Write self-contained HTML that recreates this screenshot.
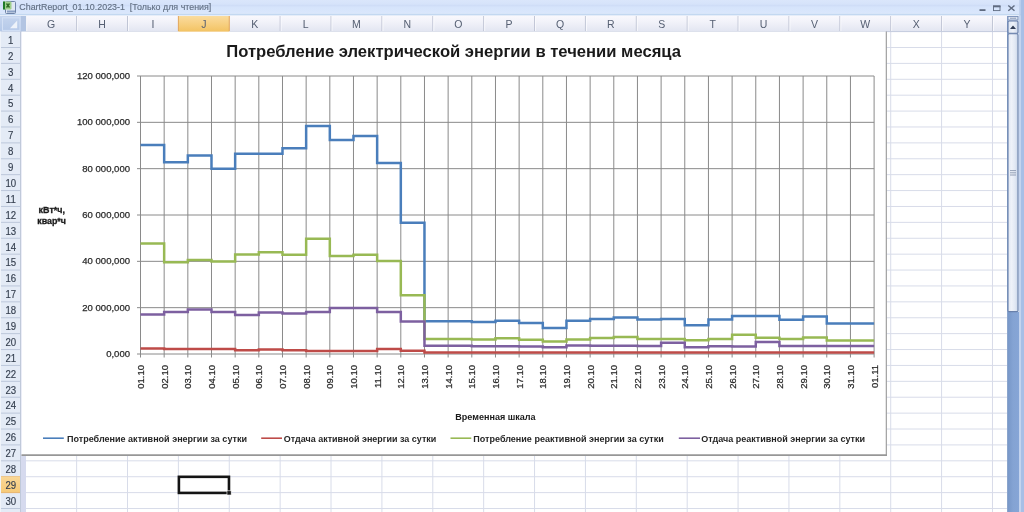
<!DOCTYPE html>
<html><head><meta charset="utf-8"><title>ChartReport</title>
<style>html,body{margin:0;padding:0;background:#fff;overflow:hidden;}svg{display:block;}</style>
</head><body>
<svg width="1024" height="512" viewBox="0 0 1024 512">
<defs>
<linearGradient id="tb" x1="0" y1="0" x2="0" y2="1">
 <stop offset="0" stop-color="#dae6fb"/><stop offset="0.25" stop-color="#d6e3fa"/><stop offset="0.35" stop-color="#cfddf7"/><stop offset="0.45" stop-color="#d6e4fb"/><stop offset="0.78" stop-color="#d9e6fc"/><stop offset="0.9" stop-color="#e3edfc"/><stop offset="1" stop-color="#e3edfc"/>
</linearGradient>
<linearGradient id="hd" x1="0" y1="0" x2="0" y2="1">
 <stop offset="0" stop-color="#f9f8fd"/><stop offset="0.4" stop-color="#f1f2f9"/><stop offset="1" stop-color="#e2e5f1"/>
</linearGradient>
<linearGradient id="hdsel" x1="0" y1="0" x2="0" y2="1">
 <stop offset="0" stop-color="#fadc9f"/><stop offset="0.5" stop-color="#f7cf80"/><stop offset="1" stop-color="#f2c260"/>
</linearGradient>
<linearGradient id="rhsel" x1="0" y1="0" x2="0" y2="1">
 <stop offset="0" stop-color="#f9d796"/><stop offset="1" stop-color="#f6ca78"/>
</linearGradient>
<linearGradient id="corner" x1="0" y1="0" x2="0" y2="1">
 <stop offset="0" stop-color="#c5d5ee"/><stop offset="1" stop-color="#b4c8e8"/>
</linearGradient>
<linearGradient id="thumb" x1="0" y1="0" x2="1" y2="0">
 <stop offset="0" stop-color="#dfe6f2"/><stop offset="0.35" stop-color="#eef2f9"/><stop offset="0.7" stop-color="#e2e9f4"/><stop offset="1" stop-color="#c9d5e8"/>
</linearGradient>
<linearGradient id="trk" x1="0" y1="0" x2="1" y2="0">
 <stop offset="0" stop-color="#7595c6"/><stop offset="0.5" stop-color="#84a3d3"/><stop offset="1" stop-color="#86a5d6"/>
</linearGradient>
<linearGradient id="btn" x1="0" y1="0" x2="1" y2="0">
 <stop offset="0" stop-color="#dbe4f2"/><stop offset="0.5" stop-color="#eef2f9"/><stop offset="1" stop-color="#cfdaeb"/>
</linearGradient>
</defs>
<rect x="0" y="0" width="1024" height="512" fill="#ffffff"/>
<line x1="21" y1="47.50" x2="1007" y2="47.50" stroke="#d8dce9" stroke-width="1"/>
<line x1="21" y1="63.39" x2="1007" y2="63.39" stroke="#d8dce9" stroke-width="1"/>
<line x1="21" y1="79.29" x2="1007" y2="79.29" stroke="#d8dce9" stroke-width="1"/>
<line x1="21" y1="95.19" x2="1007" y2="95.19" stroke="#d8dce9" stroke-width="1"/>
<line x1="21" y1="111.09" x2="1007" y2="111.09" stroke="#d8dce9" stroke-width="1"/>
<line x1="21" y1="126.98" x2="1007" y2="126.98" stroke="#d8dce9" stroke-width="1"/>
<line x1="21" y1="142.88" x2="1007" y2="142.88" stroke="#d8dce9" stroke-width="1"/>
<line x1="21" y1="158.78" x2="1007" y2="158.78" stroke="#d8dce9" stroke-width="1"/>
<line x1="21" y1="174.67" x2="1007" y2="174.67" stroke="#d8dce9" stroke-width="1"/>
<line x1="21" y1="190.57" x2="1007" y2="190.57" stroke="#d8dce9" stroke-width="1"/>
<line x1="21" y1="206.47" x2="1007" y2="206.47" stroke="#d8dce9" stroke-width="1"/>
<line x1="21" y1="222.36" x2="1007" y2="222.36" stroke="#d8dce9" stroke-width="1"/>
<line x1="21" y1="238.26" x2="1007" y2="238.26" stroke="#d8dce9" stroke-width="1"/>
<line x1="21" y1="254.16" x2="1007" y2="254.16" stroke="#d8dce9" stroke-width="1"/>
<line x1="21" y1="270.06" x2="1007" y2="270.06" stroke="#d8dce9" stroke-width="1"/>
<line x1="21" y1="285.95" x2="1007" y2="285.95" stroke="#d8dce9" stroke-width="1"/>
<line x1="21" y1="301.85" x2="1007" y2="301.85" stroke="#d8dce9" stroke-width="1"/>
<line x1="21" y1="317.75" x2="1007" y2="317.75" stroke="#d8dce9" stroke-width="1"/>
<line x1="21" y1="333.64" x2="1007" y2="333.64" stroke="#d8dce9" stroke-width="1"/>
<line x1="21" y1="349.54" x2="1007" y2="349.54" stroke="#d8dce9" stroke-width="1"/>
<line x1="21" y1="365.44" x2="1007" y2="365.44" stroke="#d8dce9" stroke-width="1"/>
<line x1="21" y1="381.33" x2="1007" y2="381.33" stroke="#d8dce9" stroke-width="1"/>
<line x1="21" y1="397.23" x2="1007" y2="397.23" stroke="#d8dce9" stroke-width="1"/>
<line x1="21" y1="413.13" x2="1007" y2="413.13" stroke="#d8dce9" stroke-width="1"/>
<line x1="21" y1="429.03" x2="1007" y2="429.03" stroke="#d8dce9" stroke-width="1"/>
<line x1="21" y1="444.92" x2="1007" y2="444.92" stroke="#d8dce9" stroke-width="1"/>
<line x1="21" y1="460.82" x2="1007" y2="460.82" stroke="#d8dce9" stroke-width="1"/>
<line x1="21" y1="476.72" x2="1007" y2="476.72" stroke="#d8dce9" stroke-width="1"/>
<line x1="21" y1="492.61" x2="1007" y2="492.61" stroke="#d8dce9" stroke-width="1"/>
<line x1="21" y1="508.51" x2="1007" y2="508.51" stroke="#d8dce9" stroke-width="1"/>
<line x1="76.63" y1="32" x2="76.63" y2="512" stroke="#d8dce9" stroke-width="1"/>
<line x1="127.51" y1="32" x2="127.51" y2="512" stroke="#d8dce9" stroke-width="1"/>
<line x1="178.39" y1="32" x2="178.39" y2="512" stroke="#d8dce9" stroke-width="1"/>
<line x1="229.27" y1="32" x2="229.27" y2="512" stroke="#d8dce9" stroke-width="1"/>
<line x1="280.15" y1="32" x2="280.15" y2="512" stroke="#d8dce9" stroke-width="1"/>
<line x1="331.03" y1="32" x2="331.03" y2="512" stroke="#d8dce9" stroke-width="1"/>
<line x1="381.91" y1="32" x2="381.91" y2="512" stroke="#d8dce9" stroke-width="1"/>
<line x1="432.79" y1="32" x2="432.79" y2="512" stroke="#d8dce9" stroke-width="1"/>
<line x1="483.67" y1="32" x2="483.67" y2="512" stroke="#d8dce9" stroke-width="1"/>
<line x1="534.55" y1="32" x2="534.55" y2="512" stroke="#d8dce9" stroke-width="1"/>
<line x1="585.43" y1="32" x2="585.43" y2="512" stroke="#d8dce9" stroke-width="1"/>
<line x1="636.31" y1="32" x2="636.31" y2="512" stroke="#d8dce9" stroke-width="1"/>
<line x1="687.19" y1="32" x2="687.19" y2="512" stroke="#d8dce9" stroke-width="1"/>
<line x1="738.07" y1="32" x2="738.07" y2="512" stroke="#d8dce9" stroke-width="1"/>
<line x1="788.95" y1="32" x2="788.95" y2="512" stroke="#d8dce9" stroke-width="1"/>
<line x1="839.83" y1="32" x2="839.83" y2="512" stroke="#d8dce9" stroke-width="1"/>
<line x1="890.71" y1="32" x2="890.71" y2="512" stroke="#d8dce9" stroke-width="1"/>
<line x1="941.59" y1="32" x2="941.59" y2="512" stroke="#d8dce9" stroke-width="1"/>
<line x1="992.47" y1="32" x2="992.47" y2="512" stroke="#d8dce9" stroke-width="1"/>
<rect x="21" y="32" width="5" height="480" fill="#d6daee"/>
<rect x="0" y="0" width="1024" height="16" fill="url(#tb)"/>
<rect x="0" y="13.8" width="1024" height="1.6" fill="#c3d8f1"/>
<rect x="0" y="15.4" width="1024" height="0.6" fill="#eef3fb"/>
<rect x="5.5" y="1.5" width="10" height="12" rx="1" fill="#dfe7f3" stroke="#6f84a8" stroke-width="1"/>
<rect x="7" y="10.5" width="8" height="2" fill="#8aa0c4"/>
<rect x="3" y="1.5" width="8.5" height="8" rx="1.2" fill="#9fd08c"/>
<rect x="3" y="1.5" width="2" height="8" fill="#1f7a2a"/>
<path d="M6.5 3.5 L9.5 7.5 M9.5 3.5 L6.5 7.5" stroke="#2e6b25" stroke-width="1.3"/>
<text x="19.3" y="10.3" font-family='"Liberation Sans", "DejaVu Sans", sans-serif' font-size="9" fill="#627084" stroke="#627084" stroke-width="0.15" textLength="192" lengthAdjust="spacingAndGlyphs" xml:space="preserve">ChartReport_01.10.2023-1  [Только для чтения]</text>
<rect x="979.5" y="9.2" width="6" height="1.8" fill="#5f6b80"/>
<rect x="993.5" y="6" width="6.5" height="4.6" fill="none" stroke="#5f6b80" stroke-width="0.9"/>
<rect x="993" y="5.5" width="7.5" height="1.8" fill="#5f6b80"/>
<path d="M1008.3 5.5 L1014.5 10.8 M1014.5 5.5 L1008.3 10.8" stroke="#5f6b80" stroke-width="1.4"/>
<rect x="0" y="16" width="1007" height="15.6" fill="url(#hd)"/>
<text x="51.19" y="27.8" font-family='"Liberation Sans", "DejaVu Sans", sans-serif' font-size="10.5" fill="#566073" text-anchor="middle">G</text>
<text x="102.07" y="27.8" font-family='"Liberation Sans", "DejaVu Sans", sans-serif' font-size="10.5" fill="#566073" text-anchor="middle">H</text>
<text x="152.95" y="27.8" font-family='"Liberation Sans", "DejaVu Sans", sans-serif' font-size="10.5" fill="#566073" text-anchor="middle">I</text>
<rect x="178.39" y="16" width="50.88" height="16.2" fill="url(#hdsel)"/>
<text x="203.83" y="27.8" font-family='"Liberation Sans", "DejaVu Sans", sans-serif' font-size="10.5" fill="#566073" text-anchor="middle">J</text>
<text x="254.71" y="27.8" font-family='"Liberation Sans", "DejaVu Sans", sans-serif' font-size="10.5" fill="#566073" text-anchor="middle">K</text>
<text x="305.59" y="27.8" font-family='"Liberation Sans", "DejaVu Sans", sans-serif' font-size="10.5" fill="#566073" text-anchor="middle">L</text>
<text x="356.47" y="27.8" font-family='"Liberation Sans", "DejaVu Sans", sans-serif' font-size="10.5" fill="#566073" text-anchor="middle">M</text>
<text x="407.35" y="27.8" font-family='"Liberation Sans", "DejaVu Sans", sans-serif' font-size="10.5" fill="#566073" text-anchor="middle">N</text>
<text x="458.23" y="27.8" font-family='"Liberation Sans", "DejaVu Sans", sans-serif' font-size="10.5" fill="#566073" text-anchor="middle">O</text>
<text x="509.11" y="27.8" font-family='"Liberation Sans", "DejaVu Sans", sans-serif' font-size="10.5" fill="#566073" text-anchor="middle">P</text>
<text x="559.99" y="27.8" font-family='"Liberation Sans", "DejaVu Sans", sans-serif' font-size="10.5" fill="#566073" text-anchor="middle">Q</text>
<text x="610.87" y="27.8" font-family='"Liberation Sans", "DejaVu Sans", sans-serif' font-size="10.5" fill="#566073" text-anchor="middle">R</text>
<text x="661.75" y="27.8" font-family='"Liberation Sans", "DejaVu Sans", sans-serif' font-size="10.5" fill="#566073" text-anchor="middle">S</text>
<text x="712.63" y="27.8" font-family='"Liberation Sans", "DejaVu Sans", sans-serif' font-size="10.5" fill="#566073" text-anchor="middle">T</text>
<text x="763.51" y="27.8" font-family='"Liberation Sans", "DejaVu Sans", sans-serif' font-size="10.5" fill="#566073" text-anchor="middle">U</text>
<text x="814.39" y="27.8" font-family='"Liberation Sans", "DejaVu Sans", sans-serif' font-size="10.5" fill="#566073" text-anchor="middle">V</text>
<text x="865.27" y="27.8" font-family='"Liberation Sans", "DejaVu Sans", sans-serif' font-size="10.5" fill="#566073" text-anchor="middle">W</text>
<text x="916.15" y="27.8" font-family='"Liberation Sans", "DejaVu Sans", sans-serif' font-size="10.5" fill="#566073" text-anchor="middle">X</text>
<text x="967.03" y="27.8" font-family='"Liberation Sans", "DejaVu Sans", sans-serif' font-size="10.5" fill="#566073" text-anchor="middle">Y</text>
<line x1="25.75" y1="16" x2="25.75" y2="31.6" stroke="#c0c5d5" stroke-width="1"/>
<line x1="26.75" y1="16" x2="26.75" y2="31.6" stroke="#fbfbfe" stroke-width="0.8"/>
<line x1="76.63" y1="16" x2="76.63" y2="31.6" stroke="#c0c5d5" stroke-width="1"/>
<line x1="77.63" y1="16" x2="77.63" y2="31.6" stroke="#fbfbfe" stroke-width="0.8"/>
<line x1="127.51" y1="16" x2="127.51" y2="31.6" stroke="#c0c5d5" stroke-width="1"/>
<line x1="128.51" y1="16" x2="128.51" y2="31.6" stroke="#fbfbfe" stroke-width="0.8"/>
<line x1="178.39" y1="16" x2="178.39" y2="31.6" stroke="#e2a55a" stroke-width="1"/>
<line x1="229.27" y1="16" x2="229.27" y2="31.6" stroke="#e2a55a" stroke-width="1"/>
<line x1="280.15" y1="16" x2="280.15" y2="31.6" stroke="#c0c5d5" stroke-width="1"/>
<line x1="281.15" y1="16" x2="281.15" y2="31.6" stroke="#fbfbfe" stroke-width="0.8"/>
<line x1="331.03" y1="16" x2="331.03" y2="31.6" stroke="#c0c5d5" stroke-width="1"/>
<line x1="332.03" y1="16" x2="332.03" y2="31.6" stroke="#fbfbfe" stroke-width="0.8"/>
<line x1="381.91" y1="16" x2="381.91" y2="31.6" stroke="#c0c5d5" stroke-width="1"/>
<line x1="382.91" y1="16" x2="382.91" y2="31.6" stroke="#fbfbfe" stroke-width="0.8"/>
<line x1="432.79" y1="16" x2="432.79" y2="31.6" stroke="#c0c5d5" stroke-width="1"/>
<line x1="433.79" y1="16" x2="433.79" y2="31.6" stroke="#fbfbfe" stroke-width="0.8"/>
<line x1="483.67" y1="16" x2="483.67" y2="31.6" stroke="#c0c5d5" stroke-width="1"/>
<line x1="484.67" y1="16" x2="484.67" y2="31.6" stroke="#fbfbfe" stroke-width="0.8"/>
<line x1="534.55" y1="16" x2="534.55" y2="31.6" stroke="#c0c5d5" stroke-width="1"/>
<line x1="535.55" y1="16" x2="535.55" y2="31.6" stroke="#fbfbfe" stroke-width="0.8"/>
<line x1="585.43" y1="16" x2="585.43" y2="31.6" stroke="#c0c5d5" stroke-width="1"/>
<line x1="586.43" y1="16" x2="586.43" y2="31.6" stroke="#fbfbfe" stroke-width="0.8"/>
<line x1="636.31" y1="16" x2="636.31" y2="31.6" stroke="#c0c5d5" stroke-width="1"/>
<line x1="637.31" y1="16" x2="637.31" y2="31.6" stroke="#fbfbfe" stroke-width="0.8"/>
<line x1="687.19" y1="16" x2="687.19" y2="31.6" stroke="#c0c5d5" stroke-width="1"/>
<line x1="688.19" y1="16" x2="688.19" y2="31.6" stroke="#fbfbfe" stroke-width="0.8"/>
<line x1="738.07" y1="16" x2="738.07" y2="31.6" stroke="#c0c5d5" stroke-width="1"/>
<line x1="739.07" y1="16" x2="739.07" y2="31.6" stroke="#fbfbfe" stroke-width="0.8"/>
<line x1="788.95" y1="16" x2="788.95" y2="31.6" stroke="#c0c5d5" stroke-width="1"/>
<line x1="789.95" y1="16" x2="789.95" y2="31.6" stroke="#fbfbfe" stroke-width="0.8"/>
<line x1="839.83" y1="16" x2="839.83" y2="31.6" stroke="#c0c5d5" stroke-width="1"/>
<line x1="840.83" y1="16" x2="840.83" y2="31.6" stroke="#fbfbfe" stroke-width="0.8"/>
<line x1="890.71" y1="16" x2="890.71" y2="31.6" stroke="#c0c5d5" stroke-width="1"/>
<line x1="891.71" y1="16" x2="891.71" y2="31.6" stroke="#fbfbfe" stroke-width="0.8"/>
<line x1="941.59" y1="16" x2="941.59" y2="31.6" stroke="#c0c5d5" stroke-width="1"/>
<line x1="942.59" y1="16" x2="942.59" y2="31.6" stroke="#fbfbfe" stroke-width="0.8"/>
<line x1="992.47" y1="16" x2="992.47" y2="31.6" stroke="#c0c5d5" stroke-width="1"/>
<line x1="993.47" y1="16" x2="993.47" y2="31.6" stroke="#fbfbfe" stroke-width="0.8"/>
<line x1="0" y1="31.6" x2="1007" y2="31.6" stroke="#c3cbdd" stroke-width="1"/>
<rect x="178.39" y="31" width="50.88" height="1.2" fill="#efbb5c"/>
<rect x="0" y="16" width="21" height="15.6" fill="url(#corner)"/>
<rect x="21" y="16" width="5" height="15.6" fill="#b2c4e2"/>
<rect x="2.5" y="17.8" width="17.5" height="12.6" fill="none" stroke="#d3e0f5" stroke-width="1"/>
<path d="M17.2 20.6 L17.2 28.2 L10 28.2 Z" fill="#eef3fa"/>
<rect x="0" y="31.6" width="20.5" height="481" fill="#e4ebf6"/>
<text x="8.06" y="43.85" font-family='"Liberation Sans", "DejaVu Sans", sans-serif' font-size="10.5" fill="#364050" stroke="#364050" stroke-width="0.15" textLength="5.37" lengthAdjust="spacingAndGlyphs">1</text>
<line x1="0" y1="47.50" x2="20.5" y2="47.50" stroke="#bcc7da" stroke-width="1"/>
<text x="8.06" y="59.75" font-family='"Liberation Sans", "DejaVu Sans", sans-serif' font-size="10.5" fill="#364050" stroke="#364050" stroke-width="0.15" textLength="5.37" lengthAdjust="spacingAndGlyphs">2</text>
<line x1="0" y1="63.39" x2="20.5" y2="63.39" stroke="#bcc7da" stroke-width="1"/>
<text x="8.06" y="75.64" font-family='"Liberation Sans", "DejaVu Sans", sans-serif' font-size="10.5" fill="#364050" stroke="#364050" stroke-width="0.15" textLength="5.37" lengthAdjust="spacingAndGlyphs">3</text>
<line x1="0" y1="79.29" x2="20.5" y2="79.29" stroke="#bcc7da" stroke-width="1"/>
<text x="8.06" y="91.54" font-family='"Liberation Sans", "DejaVu Sans", sans-serif' font-size="10.5" fill="#364050" stroke="#364050" stroke-width="0.15" textLength="5.37" lengthAdjust="spacingAndGlyphs">4</text>
<line x1="0" y1="95.19" x2="20.5" y2="95.19" stroke="#bcc7da" stroke-width="1"/>
<text x="8.06" y="107.44" font-family='"Liberation Sans", "DejaVu Sans", sans-serif' font-size="10.5" fill="#364050" stroke="#364050" stroke-width="0.15" textLength="5.37" lengthAdjust="spacingAndGlyphs">5</text>
<line x1="0" y1="111.09" x2="20.5" y2="111.09" stroke="#bcc7da" stroke-width="1"/>
<text x="8.06" y="123.33" font-family='"Liberation Sans", "DejaVu Sans", sans-serif' font-size="10.5" fill="#364050" stroke="#364050" stroke-width="0.15" textLength="5.37" lengthAdjust="spacingAndGlyphs">6</text>
<line x1="0" y1="126.98" x2="20.5" y2="126.98" stroke="#bcc7da" stroke-width="1"/>
<text x="8.06" y="139.23" font-family='"Liberation Sans", "DejaVu Sans", sans-serif' font-size="10.5" fill="#364050" stroke="#364050" stroke-width="0.15" textLength="5.37" lengthAdjust="spacingAndGlyphs">7</text>
<line x1="0" y1="142.88" x2="20.5" y2="142.88" stroke="#bcc7da" stroke-width="1"/>
<text x="8.06" y="155.13" font-family='"Liberation Sans", "DejaVu Sans", sans-serif' font-size="10.5" fill="#364050" stroke="#364050" stroke-width="0.15" textLength="5.37" lengthAdjust="spacingAndGlyphs">8</text>
<line x1="0" y1="158.78" x2="20.5" y2="158.78" stroke="#bcc7da" stroke-width="1"/>
<text x="8.06" y="171.02" font-family='"Liberation Sans", "DejaVu Sans", sans-serif' font-size="10.5" fill="#364050" stroke="#364050" stroke-width="0.15" textLength="5.37" lengthAdjust="spacingAndGlyphs">9</text>
<line x1="0" y1="174.67" x2="20.5" y2="174.67" stroke="#bcc7da" stroke-width="1"/>
<text x="5.38" y="186.92" font-family='"Liberation Sans", "DejaVu Sans", sans-serif' font-size="10.5" fill="#364050" stroke="#364050" stroke-width="0.15" textLength="10.74" lengthAdjust="spacingAndGlyphs">10</text>
<line x1="0" y1="190.57" x2="20.5" y2="190.57" stroke="#bcc7da" stroke-width="1"/>
<text x="5.74" y="202.82" font-family='"Liberation Sans", "DejaVu Sans", sans-serif' font-size="10.5" fill="#364050" stroke="#364050" stroke-width="0.15" textLength="10.03" lengthAdjust="spacingAndGlyphs">11</text>
<line x1="0" y1="206.47" x2="20.5" y2="206.47" stroke="#bcc7da" stroke-width="1"/>
<text x="5.38" y="218.72" font-family='"Liberation Sans", "DejaVu Sans", sans-serif' font-size="10.5" fill="#364050" stroke="#364050" stroke-width="0.15" textLength="10.74" lengthAdjust="spacingAndGlyphs">12</text>
<line x1="0" y1="222.36" x2="20.5" y2="222.36" stroke="#bcc7da" stroke-width="1"/>
<text x="5.38" y="234.61" font-family='"Liberation Sans", "DejaVu Sans", sans-serif' font-size="10.5" fill="#364050" stroke="#364050" stroke-width="0.15" textLength="10.74" lengthAdjust="spacingAndGlyphs">13</text>
<line x1="0" y1="238.26" x2="20.5" y2="238.26" stroke="#bcc7da" stroke-width="1"/>
<text x="5.38" y="250.51" font-family='"Liberation Sans", "DejaVu Sans", sans-serif' font-size="10.5" fill="#364050" stroke="#364050" stroke-width="0.15" textLength="10.74" lengthAdjust="spacingAndGlyphs">14</text>
<line x1="0" y1="254.16" x2="20.5" y2="254.16" stroke="#bcc7da" stroke-width="1"/>
<text x="5.38" y="266.41" font-family='"Liberation Sans", "DejaVu Sans", sans-serif' font-size="10.5" fill="#364050" stroke="#364050" stroke-width="0.15" textLength="10.74" lengthAdjust="spacingAndGlyphs">15</text>
<line x1="0" y1="270.06" x2="20.5" y2="270.06" stroke="#bcc7da" stroke-width="1"/>
<text x="5.38" y="282.30" font-family='"Liberation Sans", "DejaVu Sans", sans-serif' font-size="10.5" fill="#364050" stroke="#364050" stroke-width="0.15" textLength="10.74" lengthAdjust="spacingAndGlyphs">16</text>
<line x1="0" y1="285.95" x2="20.5" y2="285.95" stroke="#bcc7da" stroke-width="1"/>
<text x="5.38" y="298.20" font-family='"Liberation Sans", "DejaVu Sans", sans-serif' font-size="10.5" fill="#364050" stroke="#364050" stroke-width="0.15" textLength="10.74" lengthAdjust="spacingAndGlyphs">17</text>
<line x1="0" y1="301.85" x2="20.5" y2="301.85" stroke="#bcc7da" stroke-width="1"/>
<text x="5.38" y="314.10" font-family='"Liberation Sans", "DejaVu Sans", sans-serif' font-size="10.5" fill="#364050" stroke="#364050" stroke-width="0.15" textLength="10.74" lengthAdjust="spacingAndGlyphs">18</text>
<line x1="0" y1="317.75" x2="20.5" y2="317.75" stroke="#bcc7da" stroke-width="1"/>
<text x="5.38" y="329.99" font-family='"Liberation Sans", "DejaVu Sans", sans-serif' font-size="10.5" fill="#364050" stroke="#364050" stroke-width="0.15" textLength="10.74" lengthAdjust="spacingAndGlyphs">19</text>
<line x1="0" y1="333.64" x2="20.5" y2="333.64" stroke="#bcc7da" stroke-width="1"/>
<text x="5.38" y="345.89" font-family='"Liberation Sans", "DejaVu Sans", sans-serif' font-size="10.5" fill="#364050" stroke="#364050" stroke-width="0.15" textLength="10.74" lengthAdjust="spacingAndGlyphs">20</text>
<line x1="0" y1="349.54" x2="20.5" y2="349.54" stroke="#bcc7da" stroke-width="1"/>
<text x="5.38" y="361.79" font-family='"Liberation Sans", "DejaVu Sans", sans-serif' font-size="10.5" fill="#364050" stroke="#364050" stroke-width="0.15" textLength="10.74" lengthAdjust="spacingAndGlyphs">21</text>
<line x1="0" y1="365.44" x2="20.5" y2="365.44" stroke="#bcc7da" stroke-width="1"/>
<text x="5.38" y="377.69" font-family='"Liberation Sans", "DejaVu Sans", sans-serif' font-size="10.5" fill="#364050" stroke="#364050" stroke-width="0.15" textLength="10.74" lengthAdjust="spacingAndGlyphs">22</text>
<line x1="0" y1="381.33" x2="20.5" y2="381.33" stroke="#bcc7da" stroke-width="1"/>
<text x="5.38" y="393.58" font-family='"Liberation Sans", "DejaVu Sans", sans-serif' font-size="10.5" fill="#364050" stroke="#364050" stroke-width="0.15" textLength="10.74" lengthAdjust="spacingAndGlyphs">23</text>
<line x1="0" y1="397.23" x2="20.5" y2="397.23" stroke="#bcc7da" stroke-width="1"/>
<text x="5.38" y="409.48" font-family='"Liberation Sans", "DejaVu Sans", sans-serif' font-size="10.5" fill="#364050" stroke="#364050" stroke-width="0.15" textLength="10.74" lengthAdjust="spacingAndGlyphs">24</text>
<line x1="0" y1="413.13" x2="20.5" y2="413.13" stroke="#bcc7da" stroke-width="1"/>
<text x="5.38" y="425.38" font-family='"Liberation Sans", "DejaVu Sans", sans-serif' font-size="10.5" fill="#364050" stroke="#364050" stroke-width="0.15" textLength="10.74" lengthAdjust="spacingAndGlyphs">25</text>
<line x1="0" y1="429.03" x2="20.5" y2="429.03" stroke="#bcc7da" stroke-width="1"/>
<text x="5.38" y="441.27" font-family='"Liberation Sans", "DejaVu Sans", sans-serif' font-size="10.5" fill="#364050" stroke="#364050" stroke-width="0.15" textLength="10.74" lengthAdjust="spacingAndGlyphs">26</text>
<line x1="0" y1="444.92" x2="20.5" y2="444.92" stroke="#bcc7da" stroke-width="1"/>
<text x="5.38" y="457.17" font-family='"Liberation Sans", "DejaVu Sans", sans-serif' font-size="10.5" fill="#364050" stroke="#364050" stroke-width="0.15" textLength="10.74" lengthAdjust="spacingAndGlyphs">27</text>
<line x1="0" y1="460.82" x2="20.5" y2="460.82" stroke="#bcc7da" stroke-width="1"/>
<text x="5.38" y="473.07" font-family='"Liberation Sans", "DejaVu Sans", sans-serif' font-size="10.5" fill="#364050" stroke="#364050" stroke-width="0.15" textLength="10.74" lengthAdjust="spacingAndGlyphs">28</text>
<line x1="0" y1="476.72" x2="20.5" y2="476.72" stroke="#e8b46e" stroke-width="1"/>
<rect x="0" y="476.72" width="20.5" height="15.90" fill="url(#rhsel)"/>
<text x="5.38" y="488.96" font-family='"Liberation Sans", "DejaVu Sans", sans-serif' font-size="10.5" fill="#364050" stroke="#364050" stroke-width="0.15" textLength="10.74" lengthAdjust="spacingAndGlyphs">29</text>
<line x1="0" y1="492.61" x2="20.5" y2="492.61" stroke="#e8b46e" stroke-width="1"/>
<text x="5.38" y="504.86" font-family='"Liberation Sans", "DejaVu Sans", sans-serif' font-size="10.5" fill="#364050" stroke="#364050" stroke-width="0.15" textLength="10.74" lengthAdjust="spacingAndGlyphs">30</text>
<line x1="0" y1="508.51" x2="20.5" y2="508.51" stroke="#bcc7da" stroke-width="1"/>
<line x1="20.5" y1="31.6" x2="20.5" y2="512" stroke="#c0c9da" stroke-width="1"/>
<line x1="0.5" y1="31.6" x2="0.5" y2="512" stroke="#f0f4fa" stroke-width="1"/>
<rect x="178.89" y="476.82" width="50.08" height="16.10" fill="none" stroke="#141414" stroke-width="2.6"/>
<rect x="226.97" y="490.81" width="4.2" height="4.2" fill="#141414" stroke="#fff" stroke-width="0.6"/>
<rect x="21.5" y="31.6" width="864.80" height="423.60" fill="#ffffff"/>
<line x1="886.30" y1="31.6" x2="886.30" y2="456.00" stroke="#969696" stroke-width="1.1"/>
<line x1="21.5" y1="455.20" x2="886.90" y2="455.20" stroke="#979797" stroke-width="1.7"/>
<line x1="137.00" y1="354.00" x2="874.10" y2="354.00" stroke="#8a8a8a" stroke-width="1"/>
<line x1="137.00" y1="307.67" x2="874.10" y2="307.67" stroke="#8a8a8a" stroke-width="1"/>
<line x1="137.00" y1="261.33" x2="874.10" y2="261.33" stroke="#8a8a8a" stroke-width="1"/>
<line x1="137.00" y1="215.00" x2="874.10" y2="215.00" stroke="#8a8a8a" stroke-width="1"/>
<line x1="137.00" y1="168.67" x2="874.10" y2="168.67" stroke="#8a8a8a" stroke-width="1"/>
<line x1="137.00" y1="122.33" x2="874.10" y2="122.33" stroke="#8a8a8a" stroke-width="1"/>
<line x1="137.00" y1="76.00" x2="874.10" y2="76.00" stroke="#8a8a8a" stroke-width="1"/>
<line x1="140.50" y1="76.00" x2="140.50" y2="357.50" stroke="#8a8a8a" stroke-width="1"/>
<line x1="164.16" y1="76.00" x2="164.16" y2="357.50" stroke="#8a8a8a" stroke-width="1"/>
<line x1="187.83" y1="76.00" x2="187.83" y2="357.50" stroke="#8a8a8a" stroke-width="1"/>
<line x1="211.49" y1="76.00" x2="211.49" y2="357.50" stroke="#8a8a8a" stroke-width="1"/>
<line x1="235.16" y1="76.00" x2="235.16" y2="357.50" stroke="#8a8a8a" stroke-width="1"/>
<line x1="258.82" y1="76.00" x2="258.82" y2="357.50" stroke="#8a8a8a" stroke-width="1"/>
<line x1="282.49" y1="76.00" x2="282.49" y2="357.50" stroke="#8a8a8a" stroke-width="1"/>
<line x1="306.15" y1="76.00" x2="306.15" y2="357.50" stroke="#8a8a8a" stroke-width="1"/>
<line x1="329.82" y1="76.00" x2="329.82" y2="357.50" stroke="#8a8a8a" stroke-width="1"/>
<line x1="353.48" y1="76.00" x2="353.48" y2="357.50" stroke="#8a8a8a" stroke-width="1"/>
<line x1="377.15" y1="76.00" x2="377.15" y2="357.50" stroke="#8a8a8a" stroke-width="1"/>
<line x1="400.81" y1="76.00" x2="400.81" y2="357.50" stroke="#8a8a8a" stroke-width="1"/>
<line x1="424.47" y1="76.00" x2="424.47" y2="357.50" stroke="#8a8a8a" stroke-width="1"/>
<line x1="448.14" y1="76.00" x2="448.14" y2="357.50" stroke="#8a8a8a" stroke-width="1"/>
<line x1="471.80" y1="76.00" x2="471.80" y2="357.50" stroke="#8a8a8a" stroke-width="1"/>
<line x1="495.47" y1="76.00" x2="495.47" y2="357.50" stroke="#8a8a8a" stroke-width="1"/>
<line x1="519.13" y1="76.00" x2="519.13" y2="357.50" stroke="#8a8a8a" stroke-width="1"/>
<line x1="542.80" y1="76.00" x2="542.80" y2="357.50" stroke="#8a8a8a" stroke-width="1"/>
<line x1="566.46" y1="76.00" x2="566.46" y2="357.50" stroke="#8a8a8a" stroke-width="1"/>
<line x1="590.13" y1="76.00" x2="590.13" y2="357.50" stroke="#8a8a8a" stroke-width="1"/>
<line x1="613.79" y1="76.00" x2="613.79" y2="357.50" stroke="#8a8a8a" stroke-width="1"/>
<line x1="637.45" y1="76.00" x2="637.45" y2="357.50" stroke="#8a8a8a" stroke-width="1"/>
<line x1="661.12" y1="76.00" x2="661.12" y2="357.50" stroke="#8a8a8a" stroke-width="1"/>
<line x1="684.78" y1="76.00" x2="684.78" y2="357.50" stroke="#8a8a8a" stroke-width="1"/>
<line x1="708.45" y1="76.00" x2="708.45" y2="357.50" stroke="#8a8a8a" stroke-width="1"/>
<line x1="732.11" y1="76.00" x2="732.11" y2="357.50" stroke="#8a8a8a" stroke-width="1"/>
<line x1="755.78" y1="76.00" x2="755.78" y2="357.50" stroke="#8a8a8a" stroke-width="1"/>
<line x1="779.44" y1="76.00" x2="779.44" y2="357.50" stroke="#8a8a8a" stroke-width="1"/>
<line x1="803.11" y1="76.00" x2="803.11" y2="357.50" stroke="#8a8a8a" stroke-width="1"/>
<line x1="826.77" y1="76.00" x2="826.77" y2="357.50" stroke="#8a8a8a" stroke-width="1"/>
<line x1="850.44" y1="76.00" x2="850.44" y2="357.50" stroke="#8a8a8a" stroke-width="1"/>
<line x1="874.10" y1="76.00" x2="874.10" y2="357.50" stroke="#8a8a8a" stroke-width="1"/>
<text x="106.15" y="357.00" font-family='"Liberation Sans", "DejaVu Sans", sans-serif' font-size="9.6" fill="#2a2a2a" stroke="#2a2a2a" stroke-width="0.25" textLength="23.85" lengthAdjust="spacingAndGlyphs">0,000</text>
<text x="82.31" y="310.67" font-family='"Liberation Sans", "DejaVu Sans", sans-serif' font-size="9.6" fill="#2a2a2a" stroke="#2a2a2a" stroke-width="0.25" textLength="47.69" lengthAdjust="spacingAndGlyphs">20 000,000</text>
<text x="82.31" y="264.33" font-family='"Liberation Sans", "DejaVu Sans", sans-serif' font-size="9.6" fill="#2a2a2a" stroke="#2a2a2a" stroke-width="0.25" textLength="47.69" lengthAdjust="spacingAndGlyphs">40 000,000</text>
<text x="82.31" y="218.00" font-family='"Liberation Sans", "DejaVu Sans", sans-serif' font-size="9.6" fill="#2a2a2a" stroke="#2a2a2a" stroke-width="0.25" textLength="47.69" lengthAdjust="spacingAndGlyphs">60 000,000</text>
<text x="82.31" y="171.67" font-family='"Liberation Sans", "DejaVu Sans", sans-serif' font-size="9.6" fill="#2a2a2a" stroke="#2a2a2a" stroke-width="0.25" textLength="47.69" lengthAdjust="spacingAndGlyphs">80 000,000</text>
<text x="77.01" y="125.33" font-family='"Liberation Sans", "DejaVu Sans", sans-serif' font-size="9.6" fill="#2a2a2a" stroke="#2a2a2a" stroke-width="0.25" textLength="52.99" lengthAdjust="spacingAndGlyphs">100 000,000</text>
<text x="77.01" y="79.00" font-family='"Liberation Sans", "DejaVu Sans", sans-serif' font-size="9.6" fill="#2a2a2a" stroke="#2a2a2a" stroke-width="0.25" textLength="52.99" lengthAdjust="spacingAndGlyphs">120 000,000</text>
<text transform="translate(144.10,365.0) rotate(-90)" x="-23.77" y="0" font-family='"Liberation Sans", "DejaVu Sans", sans-serif' font-size="9.6" fill="#2a2a2a" stroke="#2a2a2a" stroke-width="0.25" textLength="23.77" lengthAdjust="spacingAndGlyphs">01.10</text>
<text transform="translate(167.76,365.0) rotate(-90)" x="-23.77" y="0" font-family='"Liberation Sans", "DejaVu Sans", sans-serif' font-size="9.6" fill="#2a2a2a" stroke="#2a2a2a" stroke-width="0.25" textLength="23.77" lengthAdjust="spacingAndGlyphs">02.10</text>
<text transform="translate(191.43,365.0) rotate(-90)" x="-23.77" y="0" font-family='"Liberation Sans", "DejaVu Sans", sans-serif' font-size="9.6" fill="#2a2a2a" stroke="#2a2a2a" stroke-width="0.25" textLength="23.77" lengthAdjust="spacingAndGlyphs">03.10</text>
<text transform="translate(215.09,365.0) rotate(-90)" x="-23.77" y="0" font-family='"Liberation Sans", "DejaVu Sans", sans-serif' font-size="9.6" fill="#2a2a2a" stroke="#2a2a2a" stroke-width="0.25" textLength="23.77" lengthAdjust="spacingAndGlyphs">04.10</text>
<text transform="translate(238.76,365.0) rotate(-90)" x="-23.77" y="0" font-family='"Liberation Sans", "DejaVu Sans", sans-serif' font-size="9.6" fill="#2a2a2a" stroke="#2a2a2a" stroke-width="0.25" textLength="23.77" lengthAdjust="spacingAndGlyphs">05.10</text>
<text transform="translate(262.42,365.0) rotate(-90)" x="-23.77" y="0" font-family='"Liberation Sans", "DejaVu Sans", sans-serif' font-size="9.6" fill="#2a2a2a" stroke="#2a2a2a" stroke-width="0.25" textLength="23.77" lengthAdjust="spacingAndGlyphs">06.10</text>
<text transform="translate(286.09,365.0) rotate(-90)" x="-23.77" y="0" font-family='"Liberation Sans", "DejaVu Sans", sans-serif' font-size="9.6" fill="#2a2a2a" stroke="#2a2a2a" stroke-width="0.25" textLength="23.77" lengthAdjust="spacingAndGlyphs">07.10</text>
<text transform="translate(309.75,365.0) rotate(-90)" x="-23.77" y="0" font-family='"Liberation Sans", "DejaVu Sans", sans-serif' font-size="9.6" fill="#2a2a2a" stroke="#2a2a2a" stroke-width="0.25" textLength="23.77" lengthAdjust="spacingAndGlyphs">08.10</text>
<text transform="translate(333.42,365.0) rotate(-90)" x="-23.77" y="0" font-family='"Liberation Sans", "DejaVu Sans", sans-serif' font-size="9.6" fill="#2a2a2a" stroke="#2a2a2a" stroke-width="0.25" textLength="23.77" lengthAdjust="spacingAndGlyphs">09.10</text>
<text transform="translate(357.08,365.0) rotate(-90)" x="-23.77" y="0" font-family='"Liberation Sans", "DejaVu Sans", sans-serif' font-size="9.6" fill="#2a2a2a" stroke="#2a2a2a" stroke-width="0.25" textLength="23.77" lengthAdjust="spacingAndGlyphs">10.10</text>
<text transform="translate(380.75,365.0) rotate(-90)" x="-23.07" y="0" font-family='"Liberation Sans", "DejaVu Sans", sans-serif' font-size="9.6" fill="#2a2a2a" stroke="#2a2a2a" stroke-width="0.25" textLength="23.07" lengthAdjust="spacingAndGlyphs">11.10</text>
<text transform="translate(404.41,365.0) rotate(-90)" x="-23.77" y="0" font-family='"Liberation Sans", "DejaVu Sans", sans-serif' font-size="9.6" fill="#2a2a2a" stroke="#2a2a2a" stroke-width="0.25" textLength="23.77" lengthAdjust="spacingAndGlyphs">12.10</text>
<text transform="translate(428.07,365.0) rotate(-90)" x="-23.77" y="0" font-family='"Liberation Sans", "DejaVu Sans", sans-serif' font-size="9.6" fill="#2a2a2a" stroke="#2a2a2a" stroke-width="0.25" textLength="23.77" lengthAdjust="spacingAndGlyphs">13.10</text>
<text transform="translate(451.74,365.0) rotate(-90)" x="-23.77" y="0" font-family='"Liberation Sans", "DejaVu Sans", sans-serif' font-size="9.6" fill="#2a2a2a" stroke="#2a2a2a" stroke-width="0.25" textLength="23.77" lengthAdjust="spacingAndGlyphs">14.10</text>
<text transform="translate(475.40,365.0) rotate(-90)" x="-23.77" y="0" font-family='"Liberation Sans", "DejaVu Sans", sans-serif' font-size="9.6" fill="#2a2a2a" stroke="#2a2a2a" stroke-width="0.25" textLength="23.77" lengthAdjust="spacingAndGlyphs">15.10</text>
<text transform="translate(499.07,365.0) rotate(-90)" x="-23.77" y="0" font-family='"Liberation Sans", "DejaVu Sans", sans-serif' font-size="9.6" fill="#2a2a2a" stroke="#2a2a2a" stroke-width="0.25" textLength="23.77" lengthAdjust="spacingAndGlyphs">16.10</text>
<text transform="translate(522.73,365.0) rotate(-90)" x="-23.77" y="0" font-family='"Liberation Sans", "DejaVu Sans", sans-serif' font-size="9.6" fill="#2a2a2a" stroke="#2a2a2a" stroke-width="0.25" textLength="23.77" lengthAdjust="spacingAndGlyphs">17.10</text>
<text transform="translate(546.40,365.0) rotate(-90)" x="-23.77" y="0" font-family='"Liberation Sans", "DejaVu Sans", sans-serif' font-size="9.6" fill="#2a2a2a" stroke="#2a2a2a" stroke-width="0.25" textLength="23.77" lengthAdjust="spacingAndGlyphs">18.10</text>
<text transform="translate(570.06,365.0) rotate(-90)" x="-23.77" y="0" font-family='"Liberation Sans", "DejaVu Sans", sans-serif' font-size="9.6" fill="#2a2a2a" stroke="#2a2a2a" stroke-width="0.25" textLength="23.77" lengthAdjust="spacingAndGlyphs">19.10</text>
<text transform="translate(593.73,365.0) rotate(-90)" x="-23.77" y="0" font-family='"Liberation Sans", "DejaVu Sans", sans-serif' font-size="9.6" fill="#2a2a2a" stroke="#2a2a2a" stroke-width="0.25" textLength="23.77" lengthAdjust="spacingAndGlyphs">20.10</text>
<text transform="translate(617.39,365.0) rotate(-90)" x="-23.77" y="0" font-family='"Liberation Sans", "DejaVu Sans", sans-serif' font-size="9.6" fill="#2a2a2a" stroke="#2a2a2a" stroke-width="0.25" textLength="23.77" lengthAdjust="spacingAndGlyphs">21.10</text>
<text transform="translate(641.05,365.0) rotate(-90)" x="-23.77" y="0" font-family='"Liberation Sans", "DejaVu Sans", sans-serif' font-size="9.6" fill="#2a2a2a" stroke="#2a2a2a" stroke-width="0.25" textLength="23.77" lengthAdjust="spacingAndGlyphs">22.10</text>
<text transform="translate(664.72,365.0) rotate(-90)" x="-23.77" y="0" font-family='"Liberation Sans", "DejaVu Sans", sans-serif' font-size="9.6" fill="#2a2a2a" stroke="#2a2a2a" stroke-width="0.25" textLength="23.77" lengthAdjust="spacingAndGlyphs">23.10</text>
<text transform="translate(688.38,365.0) rotate(-90)" x="-23.77" y="0" font-family='"Liberation Sans", "DejaVu Sans", sans-serif' font-size="9.6" fill="#2a2a2a" stroke="#2a2a2a" stroke-width="0.25" textLength="23.77" lengthAdjust="spacingAndGlyphs">24.10</text>
<text transform="translate(712.05,365.0) rotate(-90)" x="-23.77" y="0" font-family='"Liberation Sans", "DejaVu Sans", sans-serif' font-size="9.6" fill="#2a2a2a" stroke="#2a2a2a" stroke-width="0.25" textLength="23.77" lengthAdjust="spacingAndGlyphs">25.10</text>
<text transform="translate(735.71,365.0) rotate(-90)" x="-23.77" y="0" font-family='"Liberation Sans", "DejaVu Sans", sans-serif' font-size="9.6" fill="#2a2a2a" stroke="#2a2a2a" stroke-width="0.25" textLength="23.77" lengthAdjust="spacingAndGlyphs">26.10</text>
<text transform="translate(759.38,365.0) rotate(-90)" x="-23.77" y="0" font-family='"Liberation Sans", "DejaVu Sans", sans-serif' font-size="9.6" fill="#2a2a2a" stroke="#2a2a2a" stroke-width="0.25" textLength="23.77" lengthAdjust="spacingAndGlyphs">27.10</text>
<text transform="translate(783.04,365.0) rotate(-90)" x="-23.77" y="0" font-family='"Liberation Sans", "DejaVu Sans", sans-serif' font-size="9.6" fill="#2a2a2a" stroke="#2a2a2a" stroke-width="0.25" textLength="23.77" lengthAdjust="spacingAndGlyphs">28.10</text>
<text transform="translate(806.71,365.0) rotate(-90)" x="-23.77" y="0" font-family='"Liberation Sans", "DejaVu Sans", sans-serif' font-size="9.6" fill="#2a2a2a" stroke="#2a2a2a" stroke-width="0.25" textLength="23.77" lengthAdjust="spacingAndGlyphs">29.10</text>
<text transform="translate(830.37,365.0) rotate(-90)" x="-23.77" y="0" font-family='"Liberation Sans", "DejaVu Sans", sans-serif' font-size="9.6" fill="#2a2a2a" stroke="#2a2a2a" stroke-width="0.25" textLength="23.77" lengthAdjust="spacingAndGlyphs">30.10</text>
<text transform="translate(854.04,365.0) rotate(-90)" x="-23.77" y="0" font-family='"Liberation Sans", "DejaVu Sans", sans-serif' font-size="9.6" fill="#2a2a2a" stroke="#2a2a2a" stroke-width="0.25" textLength="23.77" lengthAdjust="spacingAndGlyphs">31.10</text>
<text transform="translate(877.70,365.0) rotate(-90)" x="-23.07" y="0" font-family='"Liberation Sans", "DejaVu Sans", sans-serif' font-size="9.6" fill="#2a2a2a" stroke="#2a2a2a" stroke-width="0.25" textLength="23.07" lengthAdjust="spacingAndGlyphs">01.11</text>
<text x="226.3" y="56.8" font-family='"Liberation Sans", "DejaVu Sans", sans-serif' font-size="16" font-weight="bold" fill="#1a1a1a" textLength="454.7" lengthAdjust="spacingAndGlyphs">Потребление электрической энергии в течении месяца</text>
<text x="38.6" y="212.5" font-family='"Liberation Sans", "DejaVu Sans", sans-serif' font-size="8.6" font-weight="bold" fill="#1a1a1a" stroke="#1a1a1a" stroke-width="0.3" textLength="26.4" lengthAdjust="spacingAndGlyphs">кВт*ч,</text>
<text x="37.2" y="224.2" font-family='"Liberation Sans", "DejaVu Sans", sans-serif' font-size="8.6" font-weight="bold" fill="#1a1a1a" stroke="#1a1a1a" stroke-width="0.3" textLength="28.8" lengthAdjust="spacingAndGlyphs">квар*ч</text>
<text x="455.3" y="420.3" font-family='"Liberation Sans", "DejaVu Sans", sans-serif' font-size="8.8" font-weight="bold" fill="#1a1a1a" textLength="80.3" lengthAdjust="spacingAndGlyphs">Временная шкала</text>
<polyline points="140.50,144.90 164.16,144.90 164.16,162.25 187.83,162.25 187.83,155.40 211.49,155.40 211.49,168.80 235.16,168.80 235.16,153.65 258.82,153.65 258.82,153.65 282.49,153.65 282.49,148.20 306.15,148.20 306.15,126.00 329.82,126.00 329.82,140.10 353.48,140.10 353.48,136.00 377.15,136.00 377.15,162.90 400.81,162.90 400.81,222.80 424.47,222.80 424.47,321.25 448.14,321.25 448.14,321.25 471.80,321.25 471.80,322.00 495.47,322.00 495.47,320.75 519.13,320.75 519.13,322.90 542.80,322.90 542.80,327.90 566.46,327.90 566.46,320.75 590.13,320.75 590.13,319.10 613.79,319.10 613.79,317.50 637.45,317.50 637.45,319.60 661.12,319.60 661.12,319.00 684.78,319.00 684.78,325.25 708.45,325.25 708.45,319.60 732.11,319.60 732.11,315.90 755.78,315.90 755.78,315.90 779.44,315.90 779.44,319.70 803.11,319.70 803.11,316.50 826.77,316.50 826.77,323.50 850.44,323.50 850.44,323.50 874.10,323.50" fill="none" stroke="#4a7ebb" stroke-width="2.5" stroke-linejoin="miter"/>
<polyline points="140.50,348.40 164.16,348.40 164.16,349.10 187.83,349.10 187.83,349.10 211.49,349.10 211.49,349.10 235.16,349.10 235.16,350.25 258.82,350.25 258.82,349.40 282.49,349.40 282.49,350.25 306.15,350.25 306.15,350.90 329.82,350.90 329.82,350.90 353.48,350.90 353.48,350.90 377.15,350.90 377.15,349.00 400.81,349.00 400.81,350.80 424.47,350.80 424.47,352.50 448.14,352.50 448.14,352.50 471.80,352.50 471.80,352.50 495.47,352.50 495.47,352.50 519.13,352.50 519.13,352.50 542.80,352.50 542.80,352.50 566.46,352.50 566.46,352.50 590.13,352.50 590.13,352.50 613.79,352.50 613.79,352.50 637.45,352.50 637.45,352.50 661.12,352.50 661.12,352.50 684.78,352.50 684.78,352.50 708.45,352.50 708.45,352.50 732.11,352.50 732.11,352.50 755.78,352.50 755.78,352.50 779.44,352.50 779.44,352.50 803.11,352.50 803.11,352.50 826.77,352.50 826.77,352.50 850.44,352.50 850.44,352.50 874.10,352.50" fill="none" stroke="#be4b48" stroke-width="2.5" stroke-linejoin="miter"/>
<polyline points="140.50,243.50 164.16,243.50 164.16,262.25 187.83,262.25 187.83,260.10 211.49,260.10 211.49,261.60 235.16,261.60 235.16,254.60 258.82,254.60 258.82,252.25 282.49,252.25 282.49,254.75 306.15,254.75 306.15,238.75 329.82,238.75 329.82,256.00 353.48,256.00 353.48,254.75 377.15,254.75 377.15,261.00 400.81,261.00 400.81,295.20 424.47,295.20 424.47,338.90 448.14,338.90 448.14,338.90 471.80,338.90 471.80,339.50 495.47,339.50 495.47,338.25 519.13,338.25 519.13,339.75 542.80,339.75 542.80,341.40 566.46,341.40 566.46,339.50 590.13,339.50 590.13,338.10 613.79,338.10 613.79,337.00 637.45,337.00 637.45,338.90 661.12,338.90 661.12,339.00 684.78,339.00 684.78,340.25 708.45,340.25 708.45,339.00 732.11,339.00 732.11,334.75 755.78,334.75 755.78,337.75 779.44,337.75 779.44,338.90 803.11,338.90 803.11,337.50 826.77,337.50 826.77,340.40 850.44,340.40 850.44,340.40 874.10,340.40" fill="none" stroke="#98b954" stroke-width="2.5" stroke-linejoin="miter"/>
<polyline points="140.50,314.40 164.16,314.40 164.16,311.90 187.83,311.90 187.83,309.40 211.49,309.40 211.49,311.90 235.16,311.90 235.16,315.00 258.82,315.00 258.82,312.50 282.49,312.50 282.49,313.40 306.15,313.40 306.15,311.90 329.82,311.90 329.82,307.90 353.48,307.90 353.48,307.90 377.15,307.90 377.15,311.90 400.81,311.90 400.81,321.40 424.47,321.40 424.47,345.75 448.14,345.75 448.14,345.75 471.80,345.75 471.80,346.25 495.47,346.25 495.47,346.25 519.13,346.25 519.13,346.60 542.80,346.60 542.80,347.25 566.46,347.25 566.46,345.40 590.13,345.40 590.13,345.75 613.79,345.75 613.79,345.75 637.45,345.75 637.45,346.00 661.12,346.00 661.12,342.80 684.78,342.80 684.78,347.25 708.45,347.25 708.45,346.25 732.11,346.25 732.11,346.60 755.78,346.60 755.78,341.90 779.44,341.90 779.44,346.00 803.11,346.00 803.11,346.00 826.77,346.00 826.77,346.00 850.44,346.00 850.44,346.00 874.10,346.00" fill="none" stroke="#7d60a0" stroke-width="2.5" stroke-linejoin="miter"/>
<line x1="43" y1="438.2" x2="63.8" y2="438.2" stroke="#4a7ebb" stroke-width="1.6"/>
<text x="67" y="441.6" font-family='"Liberation Sans", "DejaVu Sans", sans-serif' font-size="8.6" font-weight="bold" fill="#262626" textLength="180.0" lengthAdjust="spacingAndGlyphs">Потребление активной энергии за сутки</text>
<line x1="261.2" y1="438.2" x2="282" y2="438.2" stroke="#be4b48" stroke-width="1.6"/>
<text x="283.8" y="441.6" font-family='"Liberation Sans", "DejaVu Sans", sans-serif' font-size="8.6" font-weight="bold" fill="#262626" textLength="152.5" lengthAdjust="spacingAndGlyphs">Отдача активной энергии за сутки</text>
<line x1="450.5" y1="438.2" x2="471.3" y2="438.2" stroke="#98b954" stroke-width="1.6"/>
<text x="473.3" y="441.6" font-family='"Liberation Sans", "DejaVu Sans", sans-serif' font-size="8.6" font-weight="bold" fill="#262626" textLength="190.5" lengthAdjust="spacingAndGlyphs">Потребление реактивной энергии за сутки</text>
<line x1="678.8" y1="438.2" x2="700" y2="438.2" stroke="#7d60a0" stroke-width="1.6"/>
<text x="701.3" y="441.6" font-family='"Liberation Sans", "DejaVu Sans", sans-serif' font-size="8.6" font-weight="bold" fill="#262626" textLength="163.7" lengthAdjust="spacingAndGlyphs">Отдача реактивной энергии за сутки</text>
<rect x="1007" y="16" width="12" height="496" fill="#dde6f4"/>
<rect x="1007" y="312" width="12" height="200" fill="url(#trk)"/>
<line x1="1007.5" y1="16" x2="1007.5" y2="512" stroke="#8aa4cc" stroke-width="1"/>
<rect x="1008" y="16.5" width="10" height="3.5" fill="url(#btn)" stroke="#7a90b8" stroke-width="0.9"/>
<line x1="1010" y1="18.2" x2="1016" y2="18.2" stroke="#6d80a3" stroke-width="0.8"/>
<rect x="1008" y="21" width="10" height="12.2" rx="1" fill="url(#btn)" stroke="#647ca8" stroke-width="1.1"/>
<path d="M1010 29 L1013 25.5 L1016 29 Z" fill="#2f3c55"/>
<rect x="1008" y="33.8" width="10" height="277.8" rx="1.2" fill="url(#thumb)" stroke="#6880ab" stroke-width="1.1"/>
<line x1="1010" y1="170.6" x2="1016" y2="170.6" stroke="#7d8ba5" stroke-width="0.8"/>
<line x1="1010" y1="172.8" x2="1016" y2="172.8" stroke="#7d8ba5" stroke-width="0.8"/>
<line x1="1010" y1="175.0" x2="1016" y2="175.0" stroke="#7d8ba5" stroke-width="0.8"/>
<rect x="1019" y="0" width="1.5" height="512" fill="#c3d3ee"/>
<rect x="1020.5" y="0" width="3.5" height="512" fill="#a7bfe6"/>
</svg>
</body></html>
